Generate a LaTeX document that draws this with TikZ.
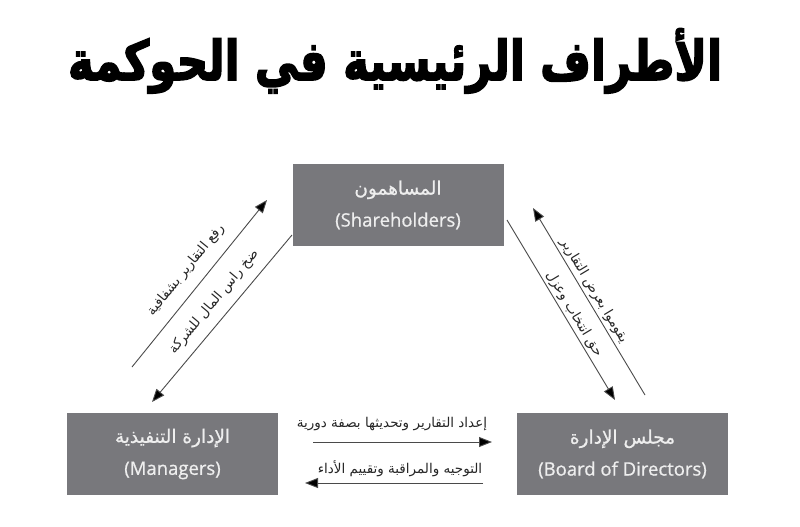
\documentclass[tikz,border=0pt]{standalone}
\usepackage{fontspec}
\setmainfont{Open Sans}
\newfontfamily\boxlatin[FakeBold=0.8]{Open Sans}
\newfontfamily\arabicfont[Script=Arabic]{DejaVu Sans}
\newfontfamily\boxarabic[Script=Arabic,FakeBold=0.8]{DejaVu Sans}
\newfontfamily\titlefont[Script=Arabic,FakeBold=3]{DejaVu Sans Bold}
\TeXXeTstate=1
\usetikzlibrary{arrows.meta}
\definecolor{boxgray}{HTML}{78787C}
\definecolor{boxtext}{HTML}{EEEEEE}
\definecolor{linegray}{HTML}{4A4A4A}
\begin{document}
\begin{tikzpicture}[x=1pt,y=-1pt,
  box/.style={fill=boxgray, minimum width=211pt, minimum height=82pt, inner sep=0pt,
    text=boxtext, align=center, font=\boxlatin\fontsize{18.5}{32}\selectfont},
  arr/.style={draw=linegray, line width=0.9pt, -{Triangle[length=13pt,width=10pt,fill=black]}},
  lbl/.style={font=\arabicfont\fontsize{13.5}{15}\selectfont, inner sep=0pt, text=black!85}]
\useasboundingbox (0,0) rectangle (800,527);
% title
\node[anchor=base, inner sep=0pt] (title) at (395,80)
  {\scalebox{1}[1.25]{\resizebox{654pt}{!}{\titlefont\beginR الأطراف الرئيسية في الحوكمة\endR}}};
% boxes
\node[box] (sh) at (398,205) {{\boxarabic\beginR المساهمون\endR}\\(Shareholders)};
\node[box] (mg) at (172.5,454) {{\boxarabic\beginR الإدارة التنفيذية\endR}\\(Managers)};
\node[box] (bd) at (622.5,454) {{\boxarabic\beginR مجلس الإدارة\endR}\\(Board of Directors)};
% arrow end points
\coordinate (l1a) at (132,367); \coordinate (l1b) at (267,200);
\coordinate (l2a) at (292,235); \coordinate (l2b) at (152,402);
\coordinate (r1a) at (645,395); \coordinate (r1b) at (533,208);
\coordinate (r2a) at (507,220); \coordinate (r2b) at (615,400);
\coordinate (b1a) at (313,442); \coordinate (b1b) at (492,442);
\coordinate (b2a) at (483,483); \coordinate (b2b) at (305,483);
\draw[arr] (l1a) -- (l1b);
\draw[arr] (l2a) -- (l2b);
\draw[arr] (r1a) -- (r1b);
\draw[arr] (r2a) -- (r2b);
\draw[arr] (b1a) -- (b1b);
\draw[arr] (b2a) -- (b2b);
% labels
\node[lbl, rotate=51] (t1) at (186,270) {\beginR رفع التقارير بشفافية\endR};
\node[lbl, rotate=50] (t2) at (214,302) {\beginR ضخ راس المال للشركة\endR};
\node[lbl, rotate=-59] (t3) at (594,291) {\beginR يقوموا بعرض التقارير\endR};
\node[lbl, rotate=-59] (t4) at (574,314) {\beginR حق انتخاب وعزل\endR};
\node[lbl] (t5) at (392,424) {\beginR إعداد التقارير وتحديثها بصفة دورية\endR};
\node[lbl] (t6) at (400,469) {\beginR التوجيه والمراقبة وتقييم الأداء\endR};
\end{tikzpicture}
\end{document}
